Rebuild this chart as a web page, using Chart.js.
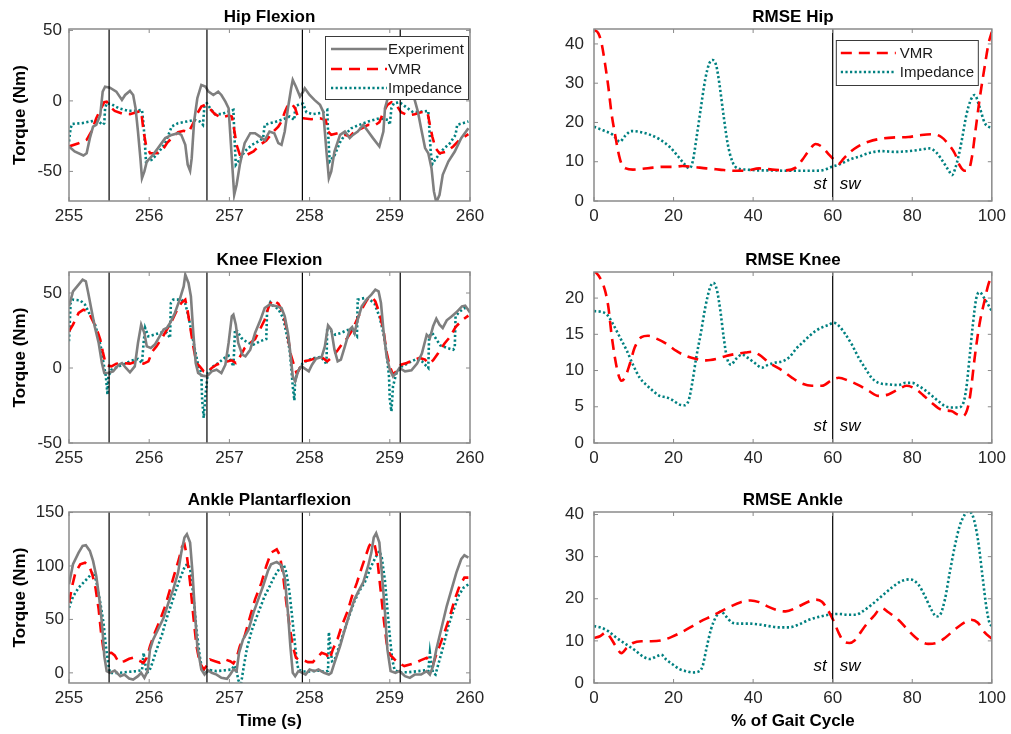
<!DOCTYPE html>
<html>
<head>
<meta charset="utf-8">
<script src="https://cdn.jsdelivr.net/npm/chart.js@4.4.1/dist/chart.umd.min.js"></script>
<style>
  html, body { margin: 0; padding: 0; background: #fff; }
  body { width: 1011px; height: 734px; position: relative; overflow: hidden; }
  canvas { position: absolute; }
</style>
</head>
<body>
<canvas id="hip" width="500" height="240" style="left:0;top:0"></canvas>
<canvas id="rmseHip" width="511" height="240" style="left:500px;top:0"></canvas>
<canvas id="knee" width="500" height="240" style="left:0;top:240px"></canvas>
<canvas id="rmseKnee" width="511" height="240" style="left:500px;top:240px"></canvas>
<canvas id="ankle" width="500" height="254" style="left:0;top:480px"></canvas>
<canvas id="rmseAnkle" width="511" height="254" style="left:500px;top:480px"></canvas>
<script>
/* ---- data: [time (s), torque (Nm)] ---- */
const hipExp = [[255.00,-32.3],[255.07,-35.9],[255.18,-38.7],[255.22,-37.1],[255.26,-26.4],[255.30,-18.2],[255.34,-17.0],[255.39,-9.9],[255.42,6.6],[255.45,10.1],[255.51,9.4],[255.59,6.6],[255.66,0.7],[255.70,4.2],[255.76,7.1],[255.80,4.2],[255.83,-5.2],[255.86,-21.7],[255.89,-40.6],[255.91,-54.8],[255.94,-50.0],[255.97,-43.0],[256.03,-39.4],[256.11,-33.5],[256.20,-26.4],[256.28,-24.1],[256.36,-22.9],[256.40,-24.1],[256.45,-31.2],[256.48,-45.3],[256.51,-49.6],[256.53,-40.6],[256.56,-14.6],[256.60,1.9],[256.65,11.3],[256.70,10.1],[256.74,6.6],[256.80,4.2],[256.86,6.6],[256.90,4.2],[256.95,-0.5],[256.99,-5.2],[257.03,-40.6],[257.06,-66.6],[257.09,-59.5],[257.13,-45.3],[257.19,-30.0],[257.26,-22.9],[257.32,-22.9],[257.38,-25.3],[257.44,-28.0],[257.50,-21.7],[257.56,-22.9],[257.61,-30.0],[257.65,-31.2],[257.69,-21.7],[257.73,-5.2],[257.77,9.0],[257.79,14.9],[257.83,10.1],[257.88,3.1],[257.92,6.6],[257.94,9.0],[258.00,4.2],[258.06,0.7],[258.13,-2.8],[258.17,-7.6],[258.21,-35.9],[258.24,-54.8],[258.27,-50.0],[258.31,-35.9],[258.38,-24.1],[258.44,-21.7],[258.50,-26.4],[258.54,-24.1],[258.60,-21.7],[258.67,-17.0],[258.73,-21.7],[258.79,-26.4],[258.87,-32.3],[258.92,-21.7],[258.94,-5.2],[258.98,3.1],[259.06,11.0],[259.19,13.7],[259.27,9.0],[259.31,0.7],[259.35,-7.6],[259.39,-19.4],[259.44,-33.5],[259.48,-37.1],[259.52,-47.7],[259.55,-64.2],[259.58,-72.0],[259.62,-66.6],[259.66,-52.4],[259.73,-43.0],[259.81,-35.9],[259.89,-26.4],[259.98,-19.4]];
const hipVmr = [[255.00,-32.3],[255.12,-30.0],[255.22,-27.6],[255.28,-21.7],[255.34,-12.3],[255.39,-6.4],[255.44,-0.9],[255.47,-0.5],[255.51,-4.0],[255.57,-7.1],[255.66,-9.0],[255.76,-9.4],[255.84,-8.0],[255.90,-7.1],[255.93,-21.7],[255.96,-31.2],[256.01,-37.1],[256.09,-37.1],[256.16,-35.4],[256.22,-30.0],[256.28,-26.4],[256.36,-22.2],[256.43,-21.2],[256.49,-22.2],[256.55,-15.8],[256.59,-9.9],[256.65,-4.0],[256.70,-2.8],[256.75,-5.2],[256.82,-9.4],[256.90,-11.8],[256.99,-10.4],[257.03,-11.1],[257.05,-17.0],[257.09,-31.2],[257.13,-38.2],[257.22,-38.2],[257.30,-35.9],[257.38,-31.2],[257.46,-28.2],[257.54,-22.2],[257.61,-18.2],[257.65,-14.6],[257.69,-8.0],[257.73,-2.8],[257.77,-1.7],[257.82,-5.2],[257.86,-12.3],[257.92,-12.3],[258.02,-13.0],[258.13,-12.3],[258.20,-13.5],[258.23,-21.7],[258.27,-24.1],[258.35,-22.9],[258.44,-24.1],[258.50,-25.3],[258.56,-21.7],[258.65,-19.4],[258.73,-17.0],[258.81,-17.5],[258.87,-15.1],[258.92,-8.0],[258.97,-2.8],[259.02,-0.9],[259.08,-2.8],[259.14,-8.0],[259.23,-10.4],[259.31,-9.4],[259.39,-8.0],[259.47,-8.0],[259.50,-17.0],[259.53,-25.3],[259.57,-33.5],[259.62,-37.1],[259.71,-35.9],[259.79,-32.3],[259.87,-27.6],[259.98,-23.6]];
const hipImp = [[255.00,-28.8],[255.02,-19.4],[255.04,-16.3],[255.16,-15.8],[255.30,-14.2],[255.37,-14.6],[255.42,-17.0],[255.44,-15.8],[255.45,-5.2],[255.47,-1.7],[255.53,-2.4],[255.62,-5.2],[255.74,-7.1],[255.82,-7.1],[255.91,-6.4],[255.93,-17.0],[255.95,-33.5],[255.96,-43.0],[256.03,-41.8],[256.11,-37.1],[256.20,-30.0],[256.28,-18.2],[256.36,-15.8],[256.47,-14.6],[256.57,-13.5],[256.63,-14.6],[256.67,-17.0],[256.69,-2.8],[256.72,-1.7],[256.76,-5.2],[256.82,-9.4],[256.90,-9.4],[256.99,-7.6],[257.05,-6.4],[257.06,-21.7],[257.08,-45.3],[257.11,-43.0],[257.19,-35.9],[257.28,-31.2],[257.36,-28.8],[257.42,-26.4],[257.44,-17.0],[257.51,-15.8],[257.56,-15.1],[257.67,-13.0],[257.75,-11.1],[257.81,-13.5],[257.82,-4.0],[257.88,-2.1],[257.92,-2.1],[257.96,-8.0],[258.04,-9.4],[258.15,-8.5],[258.22,-6.4],[258.23,-21.7],[258.25,-43.0],[258.31,-38.7],[258.38,-29.3],[258.44,-24.1],[258.52,-19.4],[258.62,-17.0],[258.73,-14.6],[258.87,-12.3],[258.98,-13.5],[259.00,-17.0],[259.02,-5.2],[259.05,-1.7],[259.12,-0.9],[259.21,-4.7],[259.29,-8.0],[259.39,-7.6],[259.48,-7.1],[259.49,-17.0],[259.51,-35.9],[259.53,-44.8],[259.58,-40.6],[259.66,-34.7],[259.75,-30.0],[259.82,-24.1],[259.84,-17.0],[259.91,-15.8],[259.98,-14.6]];

const kneeExp = [[255.00,41.1],[255.05,51.1],[255.12,55.6],[255.17,58.9],[255.21,57.8],[255.24,50.0],[255.28,38.9],[255.32,27.8],[255.37,16.7],[255.41,3.3],[255.44,-3.3],[255.49,-3.3],[255.55,-2.2],[255.62,2.2],[255.66,3.3],[255.71,0.0],[255.76,-2.9],[255.82,1.1],[255.86,16.7],[255.90,28.9],[255.94,23.3],[255.97,14.4],[256.02,13.3],[256.07,15.6],[256.13,21.1],[256.18,25.6],[256.22,26.7],[256.26,30.0],[256.32,36.7],[256.38,45.6],[256.43,54.4],[256.45,62.2],[256.49,56.7],[256.52,47.8],[256.55,23.3],[256.58,3.3],[256.61,-3.3],[256.66,-5.1],[256.72,-5.6],[256.78,-2.2],[256.84,-1.1],[256.90,-3.3],[256.95,2.2],[256.99,16.7],[257.03,34.4],[257.05,35.6],[257.08,28.9],[257.11,16.7],[257.16,8.9],[257.20,7.8],[257.26,12.2],[257.32,23.3],[257.38,31.1],[257.44,40.0],[257.50,42.2],[257.59,41.1],[257.65,40.0],[257.69,34.4],[257.73,23.3],[257.76,10.0],[257.79,-5.6],[257.82,-8.9],[257.86,-1.6],[257.90,1.1],[257.95,-0.7],[257.99,-2.2],[258.03,2.2],[258.08,6.2],[258.15,7.3],[258.19,14.4],[258.23,28.4],[258.27,25.6],[258.31,12.2],[258.35,4.4],[258.39,5.6],[258.44,14.4],[258.50,25.6],[258.53,27.3],[258.56,23.3],[258.60,32.2],[258.65,41.1],[258.71,45.6],[258.77,48.9],[258.82,52.2],[258.86,51.1],[258.89,43.3],[258.92,25.6],[258.96,7.8],[259.00,-1.1],[259.04,-5.6],[259.08,-3.3],[259.12,0.0],[259.19,-2.2],[259.27,-1.6],[259.34,2.9],[259.40,9.6],[259.46,22.2],[259.50,20.0],[259.54,27.8],[259.58,32.9],[259.62,28.9],[259.66,26.7],[259.71,31.8],[259.77,34.4],[259.83,37.1],[259.90,41.1],[259.94,41.6],[260.00,37.0]];
const kneeVmr = [[255.00,24.4],[255.05,28.9],[255.12,36.7],[255.18,38.9],[255.24,37.8],[255.30,31.1],[255.34,26.7],[255.39,18.9],[255.42,11.1],[255.45,4.4],[255.48,1.6],[255.53,1.1],[255.59,2.9],[255.68,3.3],[255.76,2.9],[255.84,4.4],[255.93,2.9],[255.99,4.4],[256.04,11.1],[256.09,14.4],[256.16,20.0],[256.22,25.6],[256.28,31.1],[256.34,37.8],[256.40,43.3],[256.45,45.6],[256.48,37.8],[256.51,27.8],[256.55,14.4],[256.59,3.3],[256.63,1.1],[256.68,-2.2],[256.72,-2.9],[256.78,0.0],[256.84,2.2],[256.90,3.3],[256.97,4.4],[257.03,5.1],[257.08,3.3],[257.13,7.3],[257.19,13.3],[257.26,16.7],[257.32,19.3],[257.38,25.6],[257.44,32.2],[257.49,41.0],[257.54,45.6],[257.61,42.9],[257.66,37.8],[257.70,30.0],[257.73,21.1],[257.76,10.0],[257.81,1.1],[257.84,-3.8],[257.88,0.0],[257.92,4.4],[258.00,5.1],[258.08,6.7],[258.15,7.3],[258.22,4.4],[258.29,7.8],[258.35,11.8],[258.40,15.6],[258.47,20.0],[258.53,25.1],[258.60,33.3],[258.67,41.1],[258.73,46.7],[258.78,47.3],[258.82,44.4],[258.87,36.7],[258.92,25.6],[258.96,10.4],[259.00,1.1],[259.04,-4.4],[259.08,-2.2],[259.14,2.2],[259.21,3.3],[259.29,5.1],[259.37,6.7],[259.44,5.6],[259.48,2.9],[259.54,5.1],[259.60,9.6],[259.68,16.2],[259.75,20.7],[259.82,27.3],[259.90,31.8],[259.98,34.9]];
const kneeImp = [[255.00,17.8],[255.02,43.3],[255.05,45.6],[255.14,45.1],[255.20,42.2],[255.26,35.6],[255.32,30.0],[255.36,22.2],[255.40,13.3],[255.43,3.3],[255.46,-5.6],[255.48,-17.8],[255.49,-5.6],[255.53,-1.1],[255.62,1.1],[255.70,2.9],[255.78,4.9],[255.86,6.0],[255.91,3.3],[255.93,16.7],[255.95,26.7],[255.99,21.1],[256.06,22.2],[256.16,23.8],[256.22,23.3],[256.26,20.0],[256.27,43.3],[256.30,45.6],[256.40,45.6],[256.45,42.9],[256.49,34.4],[256.53,23.3],[256.57,12.2],[256.61,2.2],[256.65,-3.3],[256.66,-21.1],[256.68,-33.3],[256.70,-18.9],[256.73,-3.3],[256.79,0.7],[256.86,3.3],[256.94,6.7],[256.99,8.2],[257.03,3.3],[257.05,1.1],[257.07,25.6],[257.10,24.4],[257.15,20.0],[257.22,17.1],[257.30,15.6],[257.38,17.8],[257.46,19.3],[257.47,38.9],[257.51,43.8],[257.54,41.6],[257.61,39.3],[257.67,33.3],[257.71,23.3],[257.75,12.2],[257.77,1.1],[257.79,-12.2],[257.81,-21.6],[257.82,-7.8],[257.86,-1.6],[257.91,2.9],[257.97,5.1],[258.06,6.7],[258.14,7.3],[258.19,4.4],[258.21,2.2],[258.22,27.3],[258.25,25.6],[258.32,22.2],[258.39,23.3],[258.46,25.1],[258.52,26.0],[258.57,22.2],[258.59,21.1],[258.60,45.6],[258.69,46.7],[258.75,45.6],[258.81,42.9],[258.87,34.4],[258.92,23.3],[258.96,10.0],[258.99,-5.6],[259.00,-21.1],[259.02,-28.9],[259.04,-12.2],[259.08,-3.8],[259.14,0.7],[259.23,3.3],[259.33,6.0],[259.40,4.4],[259.46,1.1],[259.48,0.0],[259.49,21.1],[259.53,23.3],[259.57,20.0],[259.63,15.1],[259.72,13.3],[259.79,12.2],[259.81,13.3],[259.82,34.4],[259.86,37.1],[259.93,40.0],[259.98,38.9]];

const ankleExp = [[255.00,82.8],[255.05,101.6],[255.12,112.5],[255.17,118.8],[255.21,119.4],[255.26,114.1],[255.30,104.7],[255.34,90.6],[255.39,62.5],[255.42,37.5],[255.44,15.6],[255.47,1.6],[255.51,0.0],[255.57,2.2],[255.64,-3.1],[255.69,-1.6],[255.75,-5.3],[255.80,-6.3],[255.86,-3.1],[255.90,0.0],[255.94,-4.7],[255.98,1.6],[256.01,21.9],[256.05,31.3],[256.11,40.6],[256.18,51.6],[256.24,65.6],[256.30,78.1],[256.36,93.8],[256.40,112.5],[256.44,126.6],[256.47,129.7],[256.51,121.9],[256.54,93.8],[256.57,56.3],[256.60,25.0],[256.65,3.1],[256.69,-1.6],[256.73,2.5],[256.78,0.0],[256.84,-1.6],[256.90,-4.7],[256.97,-5.6],[257.01,-1.6],[257.05,3.1],[257.09,1.6],[257.12,18.8],[257.17,31.3],[257.24,40.6],[257.30,56.3],[257.36,68.8],[257.42,81.3],[257.48,95.3],[257.52,101.6],[257.59,103.8],[257.65,100.6],[257.69,89.1],[257.73,56.3],[257.76,25.0],[257.79,0.0],[257.82,-3.1],[257.86,1.6],[257.91,0.0],[257.95,-1.6],[258.00,3.1],[258.06,1.6],[258.11,3.1],[258.18,0.0],[258.24,-1.6],[258.27,0.0],[258.31,9.4],[258.38,25.0],[258.44,40.6],[258.50,55.6],[258.56,68.8],[258.61,76.6],[258.67,85.0],[258.73,100.0],[258.77,112.5],[258.80,126.6],[258.83,130.6],[258.87,121.9],[258.90,93.8],[258.94,56.3],[258.97,21.9],[259.01,1.6],[259.07,0.0],[259.12,1.6],[259.19,-3.1],[259.25,-4.7],[259.31,-1.6],[259.39,-1.6],[259.46,1.6],[259.50,-1.6],[259.54,6.3],[259.58,21.9],[259.64,40.6],[259.71,62.5],[259.77,78.1],[259.83,93.8],[259.89,106.3],[259.93,110.0],[259.98,107.8]];
const ankleVmr = [[255.00,65.6],[255.04,81.3],[255.08,93.8],[255.14,101.6],[255.20,103.1],[255.25,100.6],[255.29,92.2],[255.33,79.7],[255.37,59.4],[255.40,37.5],[255.43,21.9],[255.47,18.1],[255.53,18.8],[255.57,16.3],[255.62,10.0],[255.69,10.9],[255.75,13.1],[255.80,14.1],[255.86,11.9],[255.93,9.4],[255.97,14.1],[256.01,25.0],[256.07,37.5],[256.13,48.4],[256.20,62.5],[256.26,78.1],[256.32,93.8],[256.37,106.3],[256.41,118.1],[256.44,120.3],[256.47,109.4],[256.51,84.4],[256.55,53.1],[256.59,25.0],[256.63,9.4],[256.68,3.1],[256.72,6.9],[256.76,12.5],[256.82,10.9],[256.88,9.4],[256.95,12.5],[257.01,10.9],[257.05,8.8],[257.09,14.1],[257.13,25.0],[257.19,34.4],[257.26,53.1],[257.32,68.8],[257.40,84.4],[257.46,100.0],[257.52,112.5],[257.59,115.6],[257.63,110.0],[257.67,90.6],[257.71,65.6],[257.75,43.8],[257.79,25.0],[257.83,14.1],[257.86,12.5],[257.92,11.9],[257.98,10.0],[258.04,10.0],[258.11,15.6],[258.15,18.8],[258.21,17.2],[258.25,12.5],[258.29,21.9],[258.35,31.9],[258.40,43.8],[258.47,56.9],[258.53,71.9],[258.59,84.4],[258.65,98.4],[258.70,109.4],[258.74,118.1],[258.77,122.5],[258.81,120.3],[258.84,109.4],[258.88,81.3],[258.92,53.1],[258.96,28.1],[259.00,17.2],[259.06,12.5],[259.11,9.4],[259.18,6.3],[259.25,7.8],[259.32,9.4],[259.39,11.9],[259.46,14.1],[259.50,9.4],[259.54,7.8],[259.57,15.0],[259.62,25.0],[259.68,37.5],[259.75,53.1],[259.81,68.8],[259.87,81.3],[259.93,89.1],[259.98,89.1]];
const ankleImp = [[255.00,60.9],[255.05,71.3],[255.12,79.7],[255.18,84.4],[255.24,89.1],[255.30,94.4],[255.34,85.9],[255.39,65.6],[255.43,46.9],[255.46,25.0],[255.49,7.8],[255.51,0.0],[255.62,0.0],[255.74,0.9],[255.84,1.6],[255.91,2.5],[255.93,18.8],[255.95,8.8],[255.97,0.0],[256.00,1.6],[256.04,9.4],[256.09,21.3],[256.16,35.9],[256.22,51.6],[256.28,65.0],[256.34,78.8],[256.40,91.3],[256.45,100.6],[256.49,101.6],[256.52,93.8],[256.55,71.9],[256.59,40.6],[256.63,15.6],[256.66,3.1],[256.70,0.0],[256.76,2.5],[256.84,1.6],[256.95,2.5],[257.03,3.1],[257.06,6.9],[257.09,1.6],[257.11,-6.3],[257.14,-12.5],[257.18,6.3],[257.22,23.4],[257.28,40.0],[257.36,56.3],[257.44,71.9],[257.50,80.6],[257.56,90.0],[257.63,98.4],[257.68,100.6],[257.71,93.8],[257.75,75.0],[257.79,46.9],[257.82,25.0],[257.84,10.9],[257.86,3.1],[257.92,1.3],[258.00,1.3],[258.11,2.2],[258.19,0.9],[258.23,1.9],[258.24,38.1],[258.26,23.4],[258.28,10.9],[258.31,11.9],[258.36,22.5],[258.43,39.1],[258.50,54.7],[258.56,67.2],[258.62,76.6],[258.69,85.0],[258.76,98.4],[258.82,107.8],[258.87,114.1],[258.90,107.8],[258.94,85.9],[258.97,59.4],[259.00,34.4],[259.03,12.5],[259.06,2.5],[259.12,0.6],[259.23,0.6],[259.35,1.6],[259.46,2.5],[259.48,1.6],[259.50,18.8],[259.52,6.3],[259.54,0.0],[259.57,-1.6],[259.61,9.4],[259.67,25.6],[259.73,43.8],[259.80,60.0],[259.86,72.5],[259.92,79.7],[259.98,82.8]];

/* ---- data: [% of gait cycle, RMSE] ---- */
const rmseHipVmr = [[0,43.6],[1.1,42.7],[1.9,40.2],[2.75,35.1],[3.6,29.1],[4.4,22.3],[5.25,17.2],[6.1,12.5],[6.9,9.5],[8.0,8.3],[9.8,8.0],[12.3,8.2],[14.8,8.5],[17.3,8.7],[19.8,8.7],[22.3,8.9],[24.8,8.7],[28.2,8.3],[31.5,8.0],[35.0,7.7],[38.2,7.7],[41.5,8.3],[44.8,8.0],[48.2,7.8],[50.7,8.5],[52.3,10.4],[54.0,12.8],[55.7,14.5],[57.3,13.8],[59.0,11.9],[60.25,10.6],[61.5,9.5],[62.75,10.8],[64.4,12.5],[66.5,14.0],[69.0,15.1],[72.3,15.9],[75.7,16.2],[79.0,16.3],[82.3,16.8],[85.25,17.0],[87.3,16.3],[89.0,14.6],[90.7,12.1],[91.9,9.1],[93.2,7.7],[94.2,8.0],[95.0,11.2],[95.8,17.2],[96.9,25.7],[98.2,34.2],[99.2,40.2],[100,43.1]];
const rmseHipImp = [[0,18.9],[2.3,18.0],[4.8,16.8],[6.5,15.1],[7.75,16.5],[9.4,17.8],[11.5,17.6],[14.0,16.9],[16.5,15.7],[19.0,13.8],[21.1,11.4],[22.75,9.4],[24.0,8.3],[24.8,10.0],[25.8,16.3],[26.9,24.0],[28.0,31.2],[29.0,35.1],[29.8,35.9],[30.7,34.6],[31.5,30.0],[32.5,22.3],[33.6,14.6],[34.8,10.0],[36.1,8.3],[38.2,8.0],[41.5,7.8],[44.8,7.8],[48.2,7.7],[51.5,7.7],[54.8,7.7],[57.3,7.8],[59.8,8.7],[61.9,9.4],[64.4,10.6],[66.9,11.4],[69.4,12.3],[72.3,12.7],[75.7,12.5],[79.0,12.7],[82.3,13.1],[84.4,13.4],[86.1,12.3],[87.75,10.0],[89.2,7.7],[90.0,6.6],[90.8,8.3],[91.7,11.7],[92.6,16.3],[93.6,21.9],[94.7,25.7],[95.7,27.0],[96.9,24.0],[98.2,19.9],[100,18.5]];
const rmseKneeVmr = [[0,23.8],[1.5,22.8],[2.75,21.1],[3.6,18.8],[4.4,15.0],[5.25,11.8],[6.1,9.5],[6.9,8.6],[7.75,9.0],[9.0,10.9],[10.25,13.2],[11.9,14.6],[13.6,14.8],[15.7,14.4],[18.2,13.7],[20.7,12.7],[23.2,12.0],[25.7,11.6],[28.2,11.4],[30.7,11.6],[33.2,12.0],[35.7,12.3],[38.2,12.5],[39.8,12.6],[41.5,12.2],[44.0,11.1],[47.3,10.0],[49.8,9.0],[52.3,8.2],[54.8,7.9],[57.3,7.9],[59.8,8.7],[61.5,9.0],[64.0,8.6],[66.5,8.0],[69.0,7.2],[71.5,6.5],[74.0,6.7],[76.5,7.4],[78.6,7.9],[80.7,7.5],[82.75,6.6],[84.8,5.6],[87.3,4.6],[89.8,4.4],[91.5,3.9],[92.75,3.7],[93.75,4.5],[94.6,6.7],[95.7,11.8],[96.9,16.4],[98.2,19.7],[99.2,22.0],[100,22.9]];
const rmseKneeImp = [[0,18.2],[1.9,18.1],[3.3,17.7],[4.8,16.4],[6.5,14.6],[8.2,12.8],[9.8,10.8],[11.5,9.0],[13.2,8.0],[14.8,7.2],[16.5,6.5],[18.2,6.3],[19.8,5.9],[21.5,5.3],[22.75,5.2],[23.8,5.9],[24.7,8.3],[25.7,11.8],[26.9,15.3],[28.0,18.8],[29.2,21.5],[30.0,22.1],[30.9,21.1],[31.75,18.3],[32.6,14.6],[33.4,11.8],[34.4,10.8],[35.7,11.6],[37.2,12.2],[38.8,11.7],[40.5,11.0],[42.2,10.4],[43.8,10.8],[45.7,11.1],[47.5,11.3],[49.2,11.9],[50.8,13.0],[52.5,13.9],[54.2,14.8],[55.8,15.5],[57.5,16.0],[59.0,16.3],[60.25,16.6],[61.5,16.2],[63.2,15.0],[64.8,13.6],[66.5,11.8],[68.2,10.3],[69.8,9.0],[71.5,8.3],[74.0,8.1],[76.5,8.0],[78.3,8.3],[80.0,8.3],[81.5,7.9],[83.2,7.3],[84.8,6.6],[86.5,5.8],[88.2,5.1],[89.8,4.9],[91.5,4.9],[92.75,5.4],[93.6,7.6],[94.4,11.8],[95.25,16.4],[96.1,20.0],[96.9,20.8],[98.2,19.9],[100,18.2]];
const rmseAnkleVmr = [[0,10.7],[1.5,11.1],[3.0,12.0],[4.2,10.7],[5.5,8.7],[6.9,7.1],[8.2,8.3],[9.8,9.5],[11.9,9.9],[14.4,9.9],[16.9,10.1],[19.4,10.9],[21.9,12.0],[24.4,13.3],[26.9,14.7],[29.4,15.8],[31.9,17.0],[34.4,18.2],[36.9,19.2],[39.4,19.6],[41.5,19.2],[43.6,18.2],[46.1,17.3],[48.2,17.0],[50.7,17.8],[53.2,19.0],[55.7,19.8],[57.3,19.3],[58.8,17.3],[60.25,14.7],[61.5,11.9],[62.75,9.9],[64.2,9.5],[65.5,10.1],[66.7,11.6],[68.3,13.7],[70.25,15.8],[72.3,17.8],[74.0,16.8],[76.5,15.0],[79.0,12.5],[81.5,10.3],[84.0,9.3],[86.1,9.5],[88.2,10.7],[90.7,12.7],[93.2,14.4],[94.8,15.0],[96.5,14.3],[98.2,12.0],[100,10.5]];
const rmseAnkleImp = [[0,13.5],[1.9,13.1],[3.6,12.3],[5.7,10.7],[8.2,9.1],[10.25,7.8],[12.3,6.3],[14.0,5.7],[15.7,6.3],[16.9,6.7],[18.2,5.5],[19.8,4.4],[21.5,3.3],[23.2,2.8],[24.8,2.5],[26.5,2.8],[27.3,4.0],[28.2,7.9],[29.4,12.7],[30.7,15.8],[31.9,17.0],[33.2,15.8],[34.8,14.3],[36.5,14.1],[39.0,14.1],[41.5,13.9],[44.0,13.5],[46.5,13.2],[49.0,13.2],[51.5,13.9],[54.0,15.0],[56.5,15.7],[59.0,16.2],[61.5,16.4],[64.0,16.2],[65.8,16.2],[67.5,17.0],[69.8,18.6],[72.3,20.6],[74.8,22.6],[77.3,24.2],[79.4,24.6],[81.5,23.4],[83.2,20.6],[84.8,17.4],[86.1,15.8],[87.0,16.2],[88.2,19.8],[89.4,26.1],[90.7,32.5],[91.9,37.2],[93.2,40.0],[94.0,40.8],[95.25,39.6],[96.5,34.1],[97.75,24.6],[98.6,18.2],[99.4,14.3],[100,13.5]];

/* ---- markers and ticks ---- */
const gaitEvents = [255.5, 256.72, 257.91, 259.13];
const stanceSwing = [60];
const timeTicks = [255, 256, 257, 258, 259, 260];
const pctTicks = [0, 20, 40, 60, 80, 100];
const hipTicks = [-50, 0, 50];
const kneeTicks = [-50, 0, 50];
const ankleTicks = [0, 50, 100, 150];
const rmseHipTicks = [0, 10, 20, 30, 40];
const rmseKneeTicks = [0, 5, 10, 15, 20];
const rmseAnkleTicks = [0, 10, 20, 30, 40];

const FONT = '"Liberation Sans", Arial, Helvetica, sans-serif';
const STYLE = {
  Experiment: { color: "#7f7f7f", dash: [], width: 2.6 },
  VMR: { color: "#ff0000", dash: [11, 7], width: 2.6 },
  Impedance: { color: "#008080", dash: [2.2, 2.4], width: 2.6 }
};

function decoPlugin(cfg) {
  return {
    id: "deco",
    afterDatasetsDraw(chart) {
      const ctx = chart.ctx, a = chart.chartArea;
      const xs = chart.scales.x, ys = chart.scales.y;
      const seg = (x1, y1, x2, y2) => { ctx.beginPath(); ctx.moveTo(x1, y1); ctx.lineTo(x2, y2); ctx.stroke(); };
      ctx.save();

      // event lines
      ctx.strokeStyle = "#000";
      ctx.lineWidth = 1.2;
      cfg.events.forEach(v => {
        const px = xs.getPixelForValue(v);
        seg(px, a.top, px, a.bottom);
      });

      // stance / swing labels
      if (cfg.phase) {
        const px = xs.getPixelForValue(cfg.events[0]);
        ctx.fillStyle = "#000";
        ctx.font = "italic 17px " + FONT;
        ctx.textBaseline = "middle";
        ctx.textAlign = "right";
        ctx.fillText("st", px - 6, a.bottom - 17);
        ctx.textAlign = "left";
        ctx.fillText("sw", px + 7, a.bottom - 17);
      }

      // axes box with inward ticks
      ctx.strokeStyle = "#8a8a8a";
      ctx.lineWidth = 1.5;
      ctx.strokeRect(a.left, a.top, a.right - a.left, a.bottom - a.top);
      ctx.lineWidth = 1;
      xs.ticks.forEach(t => {
        const px = xs.getPixelForValue(t.value);
        seg(px, a.bottom, px, a.bottom - 4);
        seg(px, a.top, px, a.top + 4);
      });
      ys.ticks.forEach(t => {
        const py = ys.getPixelForValue(t.value);
        seg(a.left, py, a.left + 4, py);
        seg(a.right, py, a.right - 4, py);
      });

      // legend box
      if (cfg.legend) {
        const L = cfg.legend;
        const lx = a.right - L.right - L.w, ly = a.top + L.top;
        ctx.fillStyle = "#fff";
        ctx.fillRect(lx, ly, L.w, L.h);
        ctx.strokeStyle = "#3a3a3a";
        ctx.lineWidth = 1;
        ctx.strokeRect(lx + 0.5, ly + 0.5, L.w, L.h);
        ctx.font = "15px " + FONT;
        ctx.textAlign = "left";
        ctx.textBaseline = "middle";
        L.names.forEach((name, i) => {
          const st = STYLE[name], yy = ly + L.rows[i];
          ctx.strokeStyle = st.color;
          ctx.lineWidth = st.width;
          ctx.setLineDash(st.dash);
          seg(lx + L.x0, yy, lx + L.x1, yy);
          ctx.setLineDash([]);
          ctx.fillStyle = "#1a1a1a";
          ctx.fillText(name, lx + L.tx, yy + 1);
        });
      }

      // titles
      ctx.fillStyle = "#000";
      ctx.font = "bold 17px " + FONT;
      ctx.textAlign = "center";
      ctx.textBaseline = "middle";
      ctx.fillText(cfg.title, (a.left + a.right) / 2, a.top - 12);
      if (cfg.xTitle) ctx.fillText(cfg.xTitle, (a.left + a.right) / 2, a.bottom + 38);
      if (cfg.yTitle) {
        ctx.translate(20, (a.top + a.bottom) / 2);
        ctx.rotate(-Math.PI / 2);
        ctx.fillText(cfg.yTitle, 0, 0);
      }
      ctx.restore();
    }
  };
}

// box = canvas rect on the page, area = wanted plot rect on the page
function panel(id, box, area, cfg) {
  const datasets = cfg.series.map(s => ({
    label: s.name,
    data: s.data.map(p => ({ x: p[0], y: p[1] })),
    borderColor: STYLE[s.name].color,
    borderDash: STYLE[s.name].dash,
    borderWidth: STYLE[s.name].width,
    pointRadius: 0,
    fill: false,
    tension: cfg.smooth ? 0.4 : 0,
    cubicInterpolationMode: cfg.smooth ? "monotone" : "default"
  }));
  const tickFont = { family: FONT, size: 17 };
  new Chart(document.getElementById(id), {
    type: "line",
    data: { datasets: datasets },
    options: {
      responsive: false,
      animation: false,
      events: [],
      layout: {
        padding: {
          left: 0,
          top: area.t - box.y,
          right: box.x + box.w - area.r,
          bottom: box.y + box.h - area.b - 30
        }
      },
      plugins: { legend: { display: false }, tooltip: { enabled: false } },
      scales: {
        x: {
          type: "linear",
          min: cfg.xRange[0], max: cfg.xRange[1],
          grid: { display: false, drawTicks: false },
          border: { display: false },
          ticks: { font: tickFont, color: "#262626", padding: 5, maxRotation: 0, autoSkip: false },
          afterBuildTicks: s => { s.ticks = cfg.xTicks.map(v => ({ value: v })); },
          afterFit: s => { s.height = 30; }
        },
        y: {
          type: "linear",
          min: cfg.yRange[0], max: cfg.yRange[1],
          grid: { display: false, drawTicks: false },
          border: { display: false },
          ticks: { font: tickFont, color: "#262626", padding: cfg.yPad, autoSkip: false },
          afterBuildTicks: s => { s.ticks = cfg.yTicks.map(v => ({ value: v })); },
          afterFit: s => { s.width = area.l - box.x; }
        }
      }
    },
    plugins: [decoPlugin(cfg)]
  });
}

const leftBoxW = 500, rightBoxW = 511;
const timeLegend = { names: ["Experiment", "VMR", "Impedance"], right: 2, top: 7, w: 143, h: 63, rows: [13, 33, 52], x0: 6, x1: 62, tx: 63 };
const rmseLegend = { names: ["VMR", "Impedance"], right: 14, top: 11, w: 142, h: 45, rows: [13, 32], x0: 5, x1: 60, tx: 64 };

panel("hip", { x: 0, y: 0, w: leftBoxW, h: 240 }, { l: 69, r: 470, t: 29, b: 201 }, {
  title: "Hip Flexion", yTitle: "Torque (Nm)",
  series: [{ name: "Experiment", data: hipExp }, { name: "VMR", data: hipVmr }, { name: "Impedance", data: hipImp }],
  xRange: [255, 260], yRange: [-71, 51], xTicks: timeTicks, yTicks: hipTicks, yPad: 7,
  events: gaitEvents, legend: timeLegend
});
panel("rmseHip", { x: 500, y: 0, w: rightBoxW, h: 240 }, { l: 594, r: 994, t: 29, b: 201 }, {
  title: "RMSE Hip", smooth: true,
  series: [{ name: "VMR", data: rmseHipVmr }, { name: "Impedance", data: rmseHipImp }],
  xRange: [0, 100], yRange: [0, 43.8], xTicks: pctTicks, yTicks: rmseHipTicks, yPad: 10,
  events: stanceSwing, phase: true, legend: rmseLegend
});
panel("knee", { x: 0, y: 240, w: leftBoxW, h: 240 }, { l: 69, r: 470, t: 272, b: 443 }, {
  title: "Knee Flexion", yTitle: "Torque (Nm)",
  series: [{ name: "Experiment", data: kneeExp }, { name: "VMR", data: kneeVmr }, { name: "Impedance", data: kneeImp }],
  xRange: [255, 260], yRange: [-50, 64], xTicks: timeTicks, yTicks: kneeTicks, yPad: 7,
  events: gaitEvents
});
panel("rmseKnee", { x: 500, y: 240, w: rightBoxW, h: 240 }, { l: 594, r: 994, t: 272, b: 443 }, {
  title: "RMSE Knee", smooth: true,
  series: [{ name: "VMR", data: rmseKneeVmr }, { name: "Impedance", data: rmseKneeImp }],
  xRange: [0, 100], yRange: [0, 23.6], xTicks: pctTicks, yTicks: rmseKneeTicks, yPad: 10,
  events: stanceSwing, phase: true
});
panel("ankle", { x: 0, y: 480, w: leftBoxW, h: 254 }, { l: 69, r: 470, t: 512, b: 683 }, {
  title: "Ankle Plantarflexion", yTitle: "Torque (Nm)", xTitle: "Time (s)",
  series: [{ name: "Experiment", data: ankleExp }, { name: "VMR", data: ankleVmr }, { name: "Impedance", data: ankleImp }],
  xRange: [255, 260], yRange: [-9.5, 150.5], xTicks: timeTicks, yTicks: ankleTicks, yPad: 5,
  events: gaitEvents
});
panel("rmseAnkle", { x: 500, y: 480, w: rightBoxW, h: 254 }, { l: 594, r: 994, t: 512, b: 683 }, {
  title: "RMSE Ankle", xTitle: "% of Gait Cycle", smooth: true,
  series: [{ name: "VMR", data: rmseAnkleVmr }, { name: "Impedance", data: rmseAnkleImp }],
  xRange: [0, 100], yRange: [0, 40.6], xTicks: pctTicks, yTicks: rmseAnkleTicks, yPad: 10,
  events: stanceSwing, phase: true
});
</script>
</body>
</html>
